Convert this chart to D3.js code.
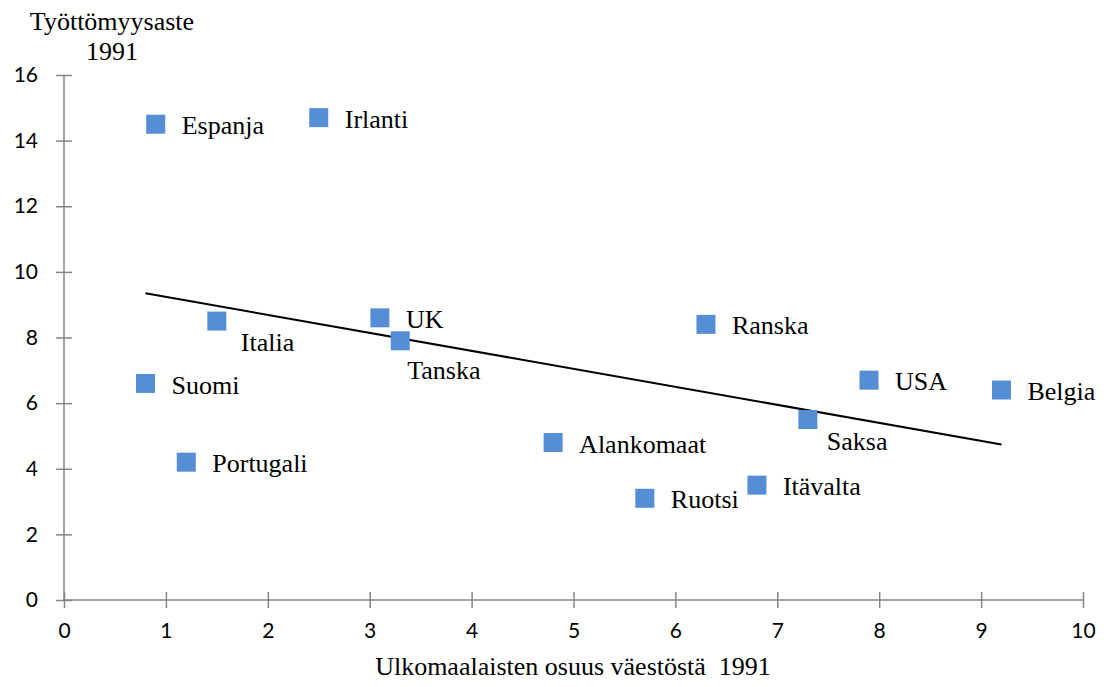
<!DOCTYPE html>
<html lang="fi">
<head>
    <meta charset="utf-8">
    <title>Työttömyysaste ja ulkomaalaisten osuus 1991</title>
    <script type="text/javascript" src="https://d3js.org/d3.v7.min.js"></script>
    <style type="text/css">
        body { margin: 0; background: #fff; }
        svg { font-family: "Liberation Serif", "Times New Roman", serif; }
        .tick text { font-family: Lato, "Open Sans", sans-serif; font-size: 21px; fill: #000; }
        .axis path, .axis line { stroke: #868686; stroke-width: 1.5; }
    </style>
</head>
<body>
<script type="text/javascript">

    // data
    var countries = ["Espanja", "Irlanti", "Italia", "UK", "Tanska", "Ranska", "Suomi",
                     "USA", "Belgia", "Saksa", "Alankomaat", "Portugali", "Ruotsi", "Itävalta"];
    var foreignShare = [0.9, 2.5, 1.5, 3.1, 3.3, 6.3, 0.8, 7.9, 9.2, 7.3, 4.8, 1.2, 5.7, 6.8];
    var unemployment = [14.5, 14.7, 8.5, 8.6, 7.9, 8.4, 6.6, 6.7, 6.4, 5.5, 4.8, 4.2, 3.1, 3.5];
    var xTicks = [0, 1, 2, 3, 4, 5, 6, 7, 8, 9, 10];
    var yTicks = [0, 2, 4, 6, 8, 10, 12, 14, 16];

    // where each label sits relative to its marker
    var below = { "Italia": [24, 21], "Tanska": [7, 29], "Saksa": [19, 21] };

    var width = 1106, height = 687;
    var margin = { left: 64, right: 23, top: 75, bottom: 87 };

    var svg = d3.select("body").append("svg")
        .attr("width", width)
        .attr("height", height);

    var x = d3.scaleLinear().domain([0, 10]).range([margin.left, width - margin.right]);
    var y = d3.scaleLinear().domain([0, 16]).range([height - margin.bottom, margin.top]);

    var xAxis = svg.append("g")
        .attr("class", "axis")
        .attr("transform", "translate(0," + y(0) + ")")
        .call(d3.axisBottom(x).tickValues(xTicks).tickSize(8).tickSizeOuter(0).tickPadding(15));
    xAxis.selectAll(".tick line").attr("y1", -8);

    var yAxis = svg.append("g")
        .attr("class", "axis")
        .attr("transform", "translate(" + x(0) + ",0)")
        .call(d3.axisLeft(y).tickValues(yTicks).tickSize(8).tickSizeOuter(0).tickPadding(18));
    yAxis.selectAll(".tick line").attr("x1", 8);
    yAxis.select(".domain").attr("d", "M0," + y(0) + "V" + y(16));
    xAxis.select(".domain").attr("d", "M" + x(0) + ",0H" + x(10));

    // linear trend line (least squares)
    var n = foreignShare.length;
    var mx = d3.mean(foreignShare), my = d3.mean(unemployment);
    var sxy = 0, sxx = 0;
    for (var i = 0; i < n; i++) {
        sxy += (foreignShare[i] - mx) * (unemployment[i] - my);
        sxx += (foreignShare[i] - mx) * (foreignShare[i] - mx);
    }
    var slope = sxy / sxx, intercept = my - slope * mx;
    var x0 = d3.min(foreignShare), x1 = d3.max(foreignShare);

    svg.append("line")
        .attr("x1", x(x0)).attr("y1", y(intercept + slope * x0))
        .attr("x2", x(x1)).attr("y2", y(intercept + slope * x1))
        .attr("stroke", "#000")
        .attr("stroke-width", 2);

    var points = countries.map(function(c, i) {
        return { name: c, x: foreignShare[i], y: unemployment[i] };
    });

    var size = 19;
    svg.selectAll(".marker")
        .data(points)
        .enter().append("rect")
        .attr("class", "marker")
        .attr("x", function(d) { return x(d.x) - size / 2; })
        .attr("y", function(d) { return y(d.y) - size / 2; })
        .attr("width", size)
        .attr("height", size)
        .attr("fill", "#558ed5");

    svg.selectAll(".label")
        .data(points)
        .enter().append("text")
        .attr("class", "label")
        .attr("x", function(d) { return x(d.x) + (below[d.name] ? below[d.name][0] : 26); })
        .attr("y", function(d) { return y(d.y) + (below[d.name] ? below[d.name][1] : 1); })
        .attr("dy", "0.35em")
        .attr("font-size", "26px")
        .attr("fill", "#000")
        .text(function(d) { return d.name; });

    // axis titles
    svg.append("text")
        .attr("x", 112).attr("y", 30)
        .attr("text-anchor", "middle")
        .attr("font-size", "26px")
        .text("Työttömyysaste");
    svg.append("text")
        .attr("x", 112).attr("y", 60)
        .attr("text-anchor", "middle")
        .attr("font-size", "26px")
        .text("1991");

    svg.append("text")
        .attr("x", 573).attr("y", 675)
        .attr("text-anchor", "middle")
        .attr("font-size", "26px")
        .attr("xml:space", "preserve")
        .style("white-space", "pre")
        .text("Ulkomaalaisten osuus väestöstä  1991");

</script>
</body>
</html>
